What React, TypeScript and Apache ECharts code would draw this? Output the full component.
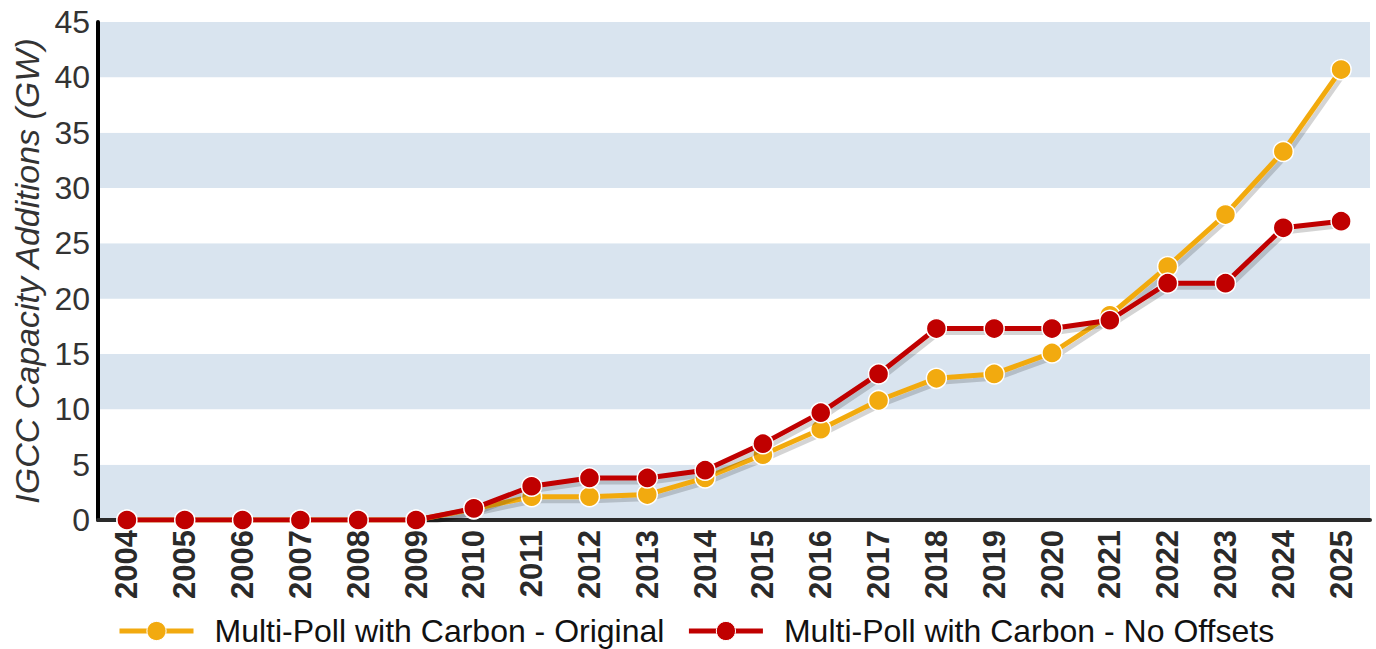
import React, { useEffect, useRef } from "react";
import * as echarts from "echarts";

const years = ["2004","2005","2006","2007","2008","2009","2010","2011","2012","2013","2014","2015","2016","2017","2018","2019","2020","2021","2022","2023","2024","2025"];
const original = [0,0,0,0,0,0,1.0,2.1,2.1,2.3,3.8,5.9,8.2,10.8,12.8,13.2,15.1,18.5,22.9,27.6,33.3,40.7];
const noOffsets = [0,0,0,0,0,0,1.05,3.05,3.8,3.8,4.5,6.9,9.7,13.2,17.3,17.3,17.3,18.05,21.4,21.4,26.4,27.0];
const seriesNames = ["Multi-Poll with Carbon - Original", "Multi-Poll with Carbon - No Offsets"];
const colors = ["#f2aa0f", "#c00000"];

export default function App() {
  const ref = useRef<HTMLDivElement>(null);
  useEffect(() => {
    const chart = echarts.init(ref.current!, null, { renderer: "svg" });
    const font = "'Liberation Sans', Arial, sans-serif";
    const shadow = {
      shadowColor: "rgba(0,0,0,0.17)",
      shadowOffsetX: 3,
      shadowOffsetY: 4,
      shadowBlur: 1,
    };
    const mk = (i: number, data: number[]) => ({
      name: seriesNames[i],
      type: "line",
      data,
      symbol: "circle",
      symbolSize: 20,
      itemStyle: { color: colors[i], borderColor: "#ffffff", borderWidth: 1.5 },
      lineStyle: { color: colors[i], width: 5, ...shadow },
      z: 3 + i,
    });
    chart.setOption({
      animation: false,
      color: colors,
      grid: { left: 98, right: 6, top: 22, bottom: 129, containLabel: false },
      legend: {
        bottom: -3,
        left: 112,
        itemWidth: 74,
        itemHeight: 24,
        itemGap: 22,
        textStyle: { fontFamily: font, fontSize: 32, color: "#111", padding: [0, 0, 0, 16] },
        data: seriesNames.map((n, i) => ({
          name: n,
          lineStyle: { color: colors[i], width: 5 },
          itemStyle: { color: colors[i], borderColor: "#ffffff", borderWidth: 1 },
        })),
      },
      xAxis: {
        type: "category",
        data: years,
        boundaryGap: true,
        axisLine: { lineStyle: { color: "#2a2a2a", width: 4 } },
        axisTick: { alignWithLabel: true, length: 6, lineStyle: { color: "#2a2a2a", width: 3 } },
        axisLabel: {
          rotate: 90,
          fontFamily: font,
          fontWeight: "bold",
          fontSize: 31,
          color: "#2a2a2a",
          margin: 10,
          interval: 0,
        },
      },
      yAxis: {
        type: "value",
        min: 0,
        max: 45,
        interval: 5,
        name: "IGCC Capacity Additions (GW)",
        nameLocation: "middle",
        nameGap: 54,
        nameTextStyle: { fontFamily: font, fontStyle: "italic", fontSize: 34, color: "#333" },
        axisLine: { show: true, lineStyle: { color: "#000", width: 4 } },
        axisTick: { show: false },
        axisLabel: { fontFamily: font, fontSize: 32, color: "#333", margin: 8 },
        splitLine: { show: false },
        splitArea: { show: true, areaStyle: { color: ["#d9e4ef", "#ffffff"] } },
      },
      series: [mk(0, original), mk(1, noOffsets)],
    });
    return () => chart.dispose();
  }, []);
  return <div ref={ref} style={{ position: "absolute", left: 0, top: 0, width: 1376, height: 649 }} />;
}
